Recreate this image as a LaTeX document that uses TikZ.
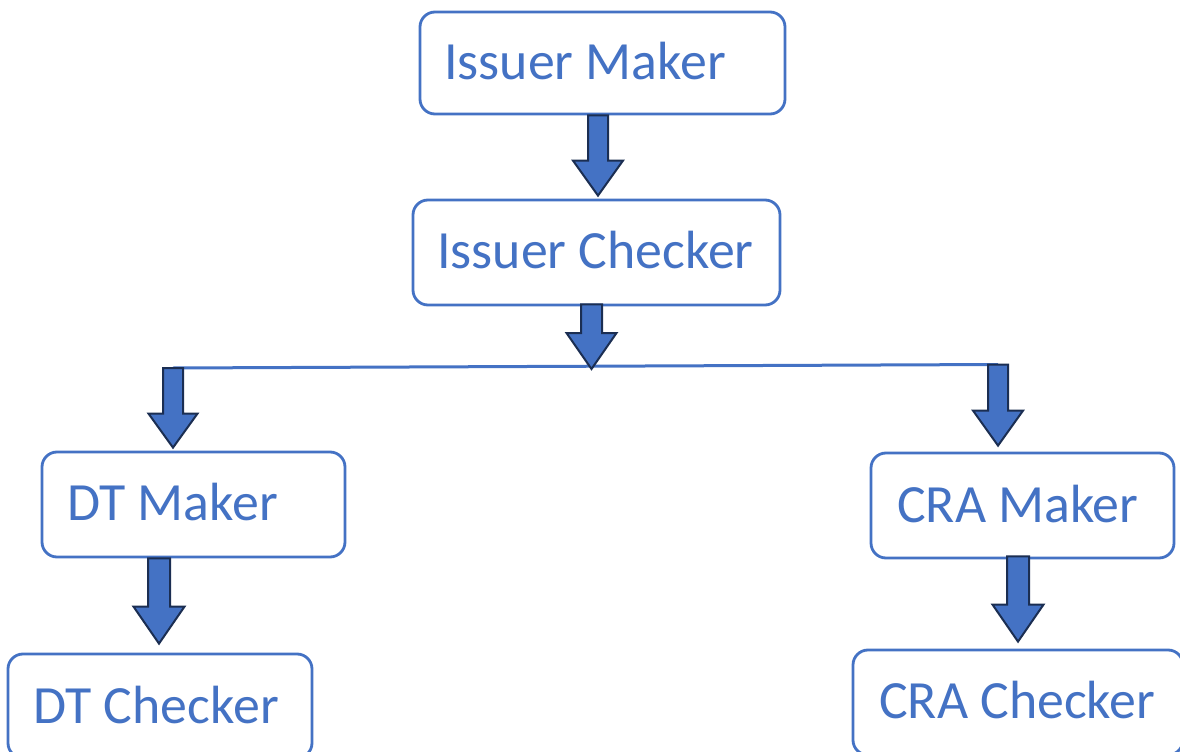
\documentclass[tikz,border=0pt]{standalone}
\usepackage{fontspec}
\setmainfont{Carlito}
\usetikzlibrary{calc}
\definecolor{accent}{HTML}{4472C4}
\definecolor{navy}{HTML}{1B2E52}
\tikzset{
  box/.style={draw=accent, line width=2.8bp, rounded corners=15bp, inner sep=0pt},
  lbl/.style={text=accent, font=\fontsize{54}{62}\selectfont, anchor=base west, inner sep=0pt},
  barrow/.style={fill=accent, draw=navy, line width=2bp, line join=miter},
  bus/.style={draw=accent, line width=3bp}
}
% x, from, to, shaft half width, head half width, head length
\newcommand\blockarrow[6]{%
  \draw[barrow] let \p1=(#2), \p2=(#3) in
    (#1bp-#4bp,\y1) -- (#1bp+#4bp,\y1) -- (#1bp+#4bp,\y2+#6bp) -- (#1bp+#5bp,\y2+#6bp)
    -- (#1bp,\y2) -- (#1bp-#5bp,\y2+#6bp) -- (#1bp-#4bp,\y2+#6bp) -- cycle;}
\begin{document}
\begin{tikzpicture}[x=1bp,y=-1bp]
\useasboundingbox (0,0) rectangle (1180,752);
\clip (0,0) rectangle (1180,752);
\fill[white] (0,0) rectangle (1180,752);
% boxes
\node[box, minimum width=365bp, minimum height=102bp] (im) at (602.5,63) {};
\node[box, minimum width=367bp, minimum height=105bp] (ic) at (596.5,252.5) {};
\node[box, minimum width=303bp, minimum height=105bp] (dm) at (193.5,504.5) {};
\node[box, minimum width=304bp, minimum height=104bp] (dc) at (160,706) {};
\node[box, minimum width=303bp, minimum height=105bp] (cm) at (1022.5,505.5) {};
\node[box, minimum width=330bp, minimum height=105bp] (cc) at (1018,702.5) {};
% labels
\node[lbl] (tim) at (444,80) {Issuer Maker};
\node[lbl] (tic) at (437,268) {Issuer Checker};
\node[lbl] (tdm) at (67,520) {DT Maker};
\node[lbl] (tdc) at (33,723) {DT Checker};
\node[lbl] (tcm) at (897,522) {CRA Maker};
\node[lbl] (tcc) at (879,718) {CRA Checker};
% bus
\coordinate (busL) at (173,368);
\coordinate (busR) at (998,364.5);
\coordinate (junc) at (591.5,369);
\draw[bus] (busL) -- (busR);
% arrows
\blockarrow{598}{im.south}{[yshift=3bp]ic.north}{10}{25}{35}
\blockarrow{591.5}{[yshift=2bp]ic.south}{junc}{10.5}{25}{36}
\blockarrow{173}{busL}{[yshift=3bp]dm.north}{10}{24.5}{34}
\blockarrow{998}{busR}{[yshift=6bp]cm.north}{10}{25}{35}
\blockarrow{159}{dm.south}{[yshift=9bp]dc.north}{11}{25.5}{37}
\blockarrow{1018}{[yshift=3bp]cm.south}{[yshift=7bp]cc.north}{11}{25.5}{37}
\end{tikzpicture}
\end{document}
